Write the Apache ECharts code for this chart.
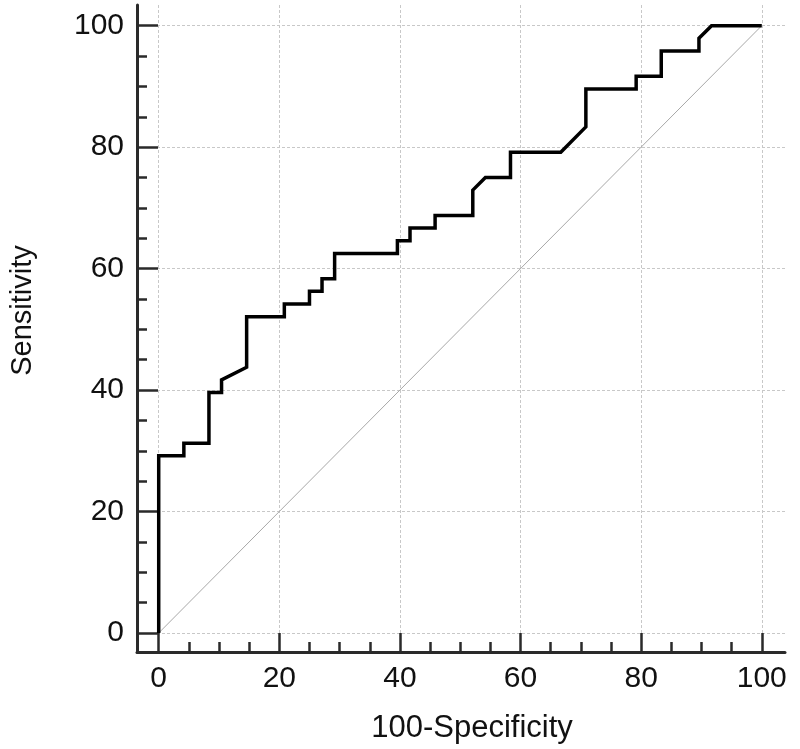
<!DOCTYPE html>
<html>
<head>
<meta charset="utf-8">
<script src="https://cdn.jsdelivr.net/npm/echarts@6/dist/echarts.min.js"></script>
<style>
html,body{margin:0;padding:0;background:#fff;}
#chart{width:800px;height:749px;}
</style>
</head>
<body>
<div id="chart"></div>
<script>
// ROC curve points (100-Specificity, Sensitivity)
var fpr = [0,0,4.17,4.17,8.33,8.33,10.42,10.42,14.58,14.58,20.83,20.83,25,25,27.08,27.08,29.17,29.17,39.58,39.58,41.67,41.67,45.83,45.83,52.08,52.08,54.17,58.33,58.33,66.67,70.83,70.83,79.17,79.17,83.33,83.33,89.58,89.58,91.67,100];
var tpr = [0,29.17,29.17,31.25,31.25,39.58,39.58,41.67,43.75,52.08,52.08,54.17,54.17,56.25,56.25,58.33,58.33,62.5,62.5,64.58,64.58,66.67,66.67,68.75,68.75,72.92,75,75,79.17,79.17,83.33,89.58,89.58,91.67,91.67,95.83,95.83,97.92,100,100];
// reference diagonal
var diagX = [0,100];
var diagY = [0,100];
// ticks
var majorTicks = [0,20,40,60,80,100];
var minorTicks = [0,5,10,15,20,25,30,35,40,45,50,55,60,65,70,75,80,85,90,95,100];
var xTitle = '100-Specificity';
var yTitle = 'Sensitivity';

var rocData = fpr.map(function(v,i){return [v,tpr[i]];});
var diagData = diagX.map(function(v,i){return [v,diagY[i]];});

var FONT = '"Liberation Sans", Arial, sans-serif';
var axisColor = '#2a2a2a';
var xMin = -3.6, xMax = 103.85, yMin = -3.13, yMax = 103.4;

function baseAxis(isX, major) {
  var a = {
    type: 'value',
    min: isX ? xMin : yMin,
    max: isX ? xMax : yMax,
    position: isX ? 'bottom' : 'left',
    axisLine: { show: !major, onZero: false, lineStyle: { color: axisColor, width: 3 } },
    axisTick: {
      show: true, inside: true,
      customValues: major ? majorTicks : minorTicks,
      length: major ? (isX ? 19 : 21) : 10,
      lineStyle: { color: axisColor, width: 2.5 }
    },
    axisLabel: {
      show: !major,
      customValues: majorTicks,
      color: '#111', fontSize: 30, fontFamily: FONT,
      margin: isX ? 12 : 13
    },
    splitLine: {
      show: major,
      lineStyle: { color: '#c8c8c8', width: 1, type: [3, 2] }
    },
    minorTick: { show: false },
    splitArea: { show: false }
  };
  if (!major) {
    a.name = isX ? xTitle : yTitle;
    a.nameLocation = 'middle';
    a.nameGap = isX ? 61 : 100;
    a.nameTextStyle = isX
      ? { color: '#111', fontSize: 31, fontFamily: FONT, padding: [0, 0, 0, 22] }
      : { color: '#111', fontSize: 29, fontFamily: FONT, padding: [0, 0, 0, 36] };
  }
  return a;
}

var chart = echarts.init(document.getElementById('chart'), null, { renderer: 'canvas' });
chart.setOption({
  animation: false,
  backgroundColor: '#fff',
  grid: { left: 135, right: 15, top: 5, bottom: 97, containLabel: false },
  xAxis: [baseAxis(true, false), baseAxis(true, true)],
  yAxis: [baseAxis(false, false), baseAxis(false, true)],
  series: [
    {
      type: 'line', xAxisIndex: 0, yAxisIndex: 0,
      data: diagData, showSymbol: false, symbol: 'none',
      lineStyle: { color: '#a8a8a8', width: 1 }, z: 2
    },
    {
      type: 'line', xAxisIndex: 0, yAxisIndex: 0,
      data: rocData, showSymbol: false, symbol: 'none',
      lineStyle: { color: '#000', width: 3.5, join: 'miter', cap: 'butt' }, z: 3
    }
  ]
});
</script>
</body>
</html>
